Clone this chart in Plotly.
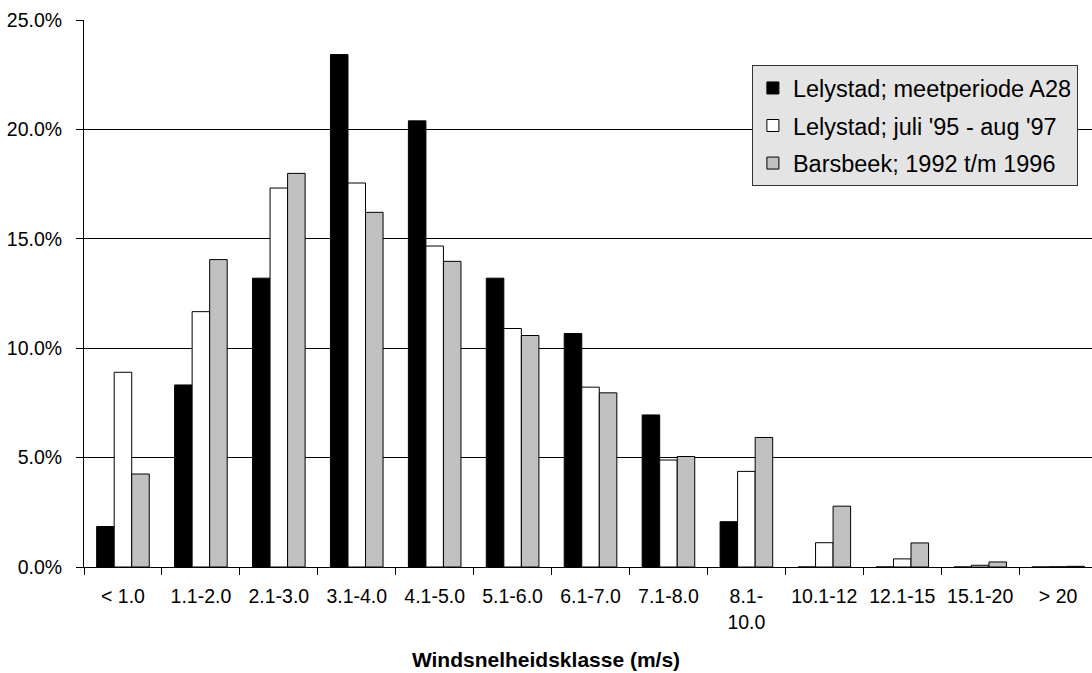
import plotly.graph_objects as go

categories = ["< 1.0", "1.1-2.0", "2.1-3.0", "3.1-4.0", "4.1-5.0", "5.1-6.0", "6.1-7.0",
              "7.1-8.0", "8.1-<br>10.0", "10.1-12", "12.1-15", "15.1-20", "> 20"]

lelystad_a28 = [1.85, 8.32, 13.2, 23.42, 20.39, 13.2, 10.67, 6.95, 2.07, 0.0, 0.0, 0.0, 0.0]
lelystad_95_97 = [8.9, 11.67, 17.32, 17.55, 14.67, 10.9, 8.22, 4.89, 4.37, 1.11, 0.37, 0.08, 0.01]
barsbeek = [4.25, 14.05, 17.99, 16.21, 13.97, 10.58, 7.96, 5.05, 5.92, 2.78, 1.10, 0.23, 0.03]

names = ["Lelystad; meetperiode A28", "Lelystad; juli '95 - aug '97", "Barsbeek; 1992 t/m 1996"]
colors = ["#000000", "#ffffff", "#c0c0c0"]
series = [lelystad_a28, lelystad_95_97, barsbeek]

FONT = "Liberation Sans, Arial, sans-serif"

fig = go.Figure()
for i, (nm, col, vals) in enumerate(zip(names, colors, series)):
    fig.add_trace(go.Bar(
        x=categories, y=vals, name=nm, legendgroup=f"g{i}",
        marker=dict(color=col, line=dict(color="#000000", width=1)),
    ))

fig.update_layout(
    width=1092, height=673,
    margin=dict(l=84, r=0, t=20, b=106, pad=0),
    paper_bgcolor="#ffffff", plot_bgcolor="#ffffff",
    font=dict(family=FONT, size=19.5, color="#000000"),
    barmode="group", bargap=0.325, bargroupgap=0,
    showlegend=True,
    legend=dict(
        x=0.6626, y=0.9174, xanchor="left", yanchor="top",
        bgcolor="#e4e4e4", bordercolor="#333333", borderwidth=1,
        font=dict(family=FONT, size=23.5, color="#000000"),
        traceorder="grouped", tracegroupgap=4,
        itemclick=False,
    ),
    title=dict(
        text="<b>Windsnelheidsklasse (m/s)</b>",
        xref="container", yref="container", x=0.5, y=1 - 660 / 673,
        xanchor="center", yanchor="middle",
        font=dict(family=FONT, size=21, color="#000000"),
    ),
)

fig.update_xaxes(
    type="category",
    range=[-0.5, 12.435],
    showline=True, linecolor="#000000", linewidth=1,
    ticks="outside", ticklen=7, tickcolor="#000000", tickwidth=1,
    tickson="boundaries",
    showgrid=False,
    ticklabelstandoff=12,
    tickfont=dict(family=FONT, size=19.5, color="#000000"),
)

fig.update_yaxes(
    range=[0, 25], dtick=5, tick0=0,
    tickformat=".1f", ticksuffix="%",
    showline=True, linecolor="#000000", linewidth=1,
    ticks="outside", ticklen=7, tickcolor="#000000", tickwidth=1,
    showgrid=True, gridcolor="#000000", gridwidth=1,
    zeroline=False,
    ticklabelstandoff=10,
    tickfont=dict(family=FONT, size=19.5, color="#000000"),
)

fig.write_html("out.html")
